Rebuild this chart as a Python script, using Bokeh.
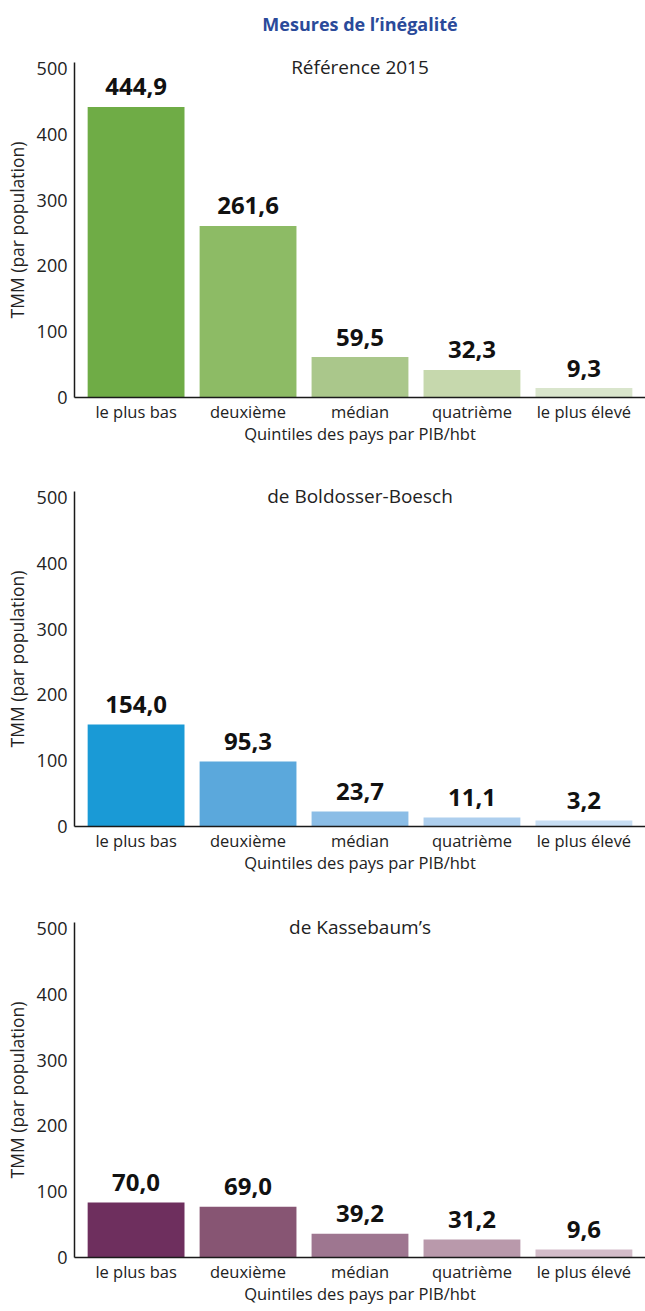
from bokeh.plotting import figure
from bokeh.models import FactorRange, Range1d, FixedTicker, ColumnDataSource
from bokeh.layouts import column
from bokeh.embed import file_html
from bokeh.resources import INLINE
from bokeh.core.properties import value

# ---- data ----
quintiles = ["le plus bas", "deuxième", "médian", "quatrième", "le plus élevé"]
y_ticks = [0, 100, 200, 300, 400, 500]
Y_END = 509

main_title = "Mesures de l’inégalité"
x_title = "Quintiles des pays par PIB/hbt"
y_title = "TMM (par population)"

ref_title = "Référence 2015"
ref_labels = ["444,9", "261,6", "59,5", "32,3", "9,3"]
ref_bars = [441.5, 260.6, 61.5, 41.8, 14.4]
ref_colors = ["#6fac46", "#8dbb65", "#aac78b", "#c6d8ad", "#d9e5cc"]

bb_title = "de Boldosser-Boesch"
bb_labels = ["154,0", "95,3", "23,7", "11,1", "3,2"]
bb_bars = [155.0, 98.8, 22.8, 13.7, 9.1]
bb_colors = ["#1a9ad6", "#5ba8dc", "#8bbde6", "#aecfee", "#c8def3"]

kb_title = "de Kassebaum’s"
kb_labels = ["70,0", "69,0", "39,2", "31,2", "9,6"]
kb_bars = [83.6, 77.0, 36.0, 27.4, 12.2]
kb_colors = ["#6e2f5e", "#875573", "#9e7690", "#b999ab", "#d3bcc9"]

TXT = "#222222"
AX = "#1a1a1a"
W = 645
LEFT = 74


def x_range():
    return FactorRange(factors=quintiles, range_padding=0.05,
                       range_padding_units="absolute")


# ---- main title strip ----
p0 = figure(x_range=x_range(), y_range=Range1d(-1, 1), width=W, height=48,
            min_border_left=LEFT, min_border_right=0, min_border_top=0,
            min_border_bottom=0, toolbar_location=None, output_backend="svg")
p0.xaxis.visible = False
p0.yaxis.visible = False
p0.xgrid.grid_line_color = None
p0.ygrid.grid_line_color = None
p0.outline_line_color = None
p0.text(x=[quintiles[2]], y=[0], text=[main_title], text_align="center",
        text_baseline="middle", text_font=value("Open Sans"),
        text_font_style="bold", text_font_size="18px", text_color="#2a4a9a",
        y_offset=-1)


def panel(subtitle, bars, labels, colors, border_top):
    p = figure(
        x_range=x_range(), y_range=Range1d(0, Y_END),
        width=W, height=border_top + 335 + 50,
        min_border_left=LEFT, min_border_right=0,
        min_border_top=border_top, min_border_bottom=50,
        toolbar_location=None, output_backend="svg",
    )
    p.outline_line_color = None
    p.xgrid.grid_line_color = None
    p.ygrid.grid_line_color = None
    p.background_fill_color = "white"
    p.border_fill_color = "white"

    p.title.text = subtitle
    p.title.align = "center"
    p.title.vertical_align = "bottom"
    p.title.text_font = "Open Sans"
    p.title.text_font_style = "normal"
    p.title.text_font_size = "19px"
    p.title.text_color = TXT
    p.title.standoff = -35

    src = ColumnDataSource(dict(x=quintiles, top=bars, label=labels, color=colors))
    p.vbar(x="x", top="top", width=0.865, fill_color="color", line_color=None, source=src)
    p.text(x="x", y="top", text="label", source=src, y_offset=-20,
           text_align="center", text_baseline="alphabetic",
           text_font=value("Open Sans"), text_font_style="bold",
           text_font_size="24px", text_color="#111111")

    ya = p.yaxis[0]
    ya.ticker = FixedTicker(ticks=y_ticks)
    ya.major_tick_line_color = None
    ya.minor_tick_line_color = None
    ya.major_tick_out = 0
    ya.major_tick_in = 0
    ya.minor_tick_out = 0
    ya.axis_line_color = AX
    ya.axis_line_width = 1.5
    ya.major_label_standoff = 7
    ya.major_label_text_font = "Open Sans"
    ya.major_label_text_font_size = "18px"
    ya.major_label_text_color = TXT
    ya.axis_label = y_title
    ya.axis_label_standoff = 5
    ya.axis_label_text_font = "Open Sans"
    ya.axis_label_text_font_size = "17.5px"
    ya.axis_label_text_font_style = "normal"
    ya.axis_label_text_color = TXT

    xa = p.xaxis[0]
    xa.major_tick_line_color = None
    xa.minor_tick_line_color = None
    xa.major_tick_out = 0
    xa.major_tick_in = 0
    xa.minor_tick_out = 0
    xa.axis_line_color = AX
    xa.axis_line_width = 1.5
    xa.major_label_standoff = 2
    xa.major_label_text_font = "Open Sans"
    xa.major_label_text_font_size = "16.5px"
    xa.major_label_text_color = TXT
    xa.axis_label = x_title
    xa.axis_label_standoff = -4
    xa.axis_label_text_font = "Open Sans"
    xa.axis_label_text_font_size = "16.5px"
    xa.axis_label_text_font_style = "normal"
    xa.axis_label_text_color = TXT
    return p


p1 = panel(ref_title, ref_bars, ref_labels, ref_colors, 14)
p2 = panel(bb_title, bb_bars, bb_labels, bb_colors, 44)
p3 = panel(kb_title, kb_bars, kb_labels, kb_colors, 46)

layout = column(p0, p1, p2, p3, spacing=0)
open("out.html", "w").write(file_html(layout, INLINE))
